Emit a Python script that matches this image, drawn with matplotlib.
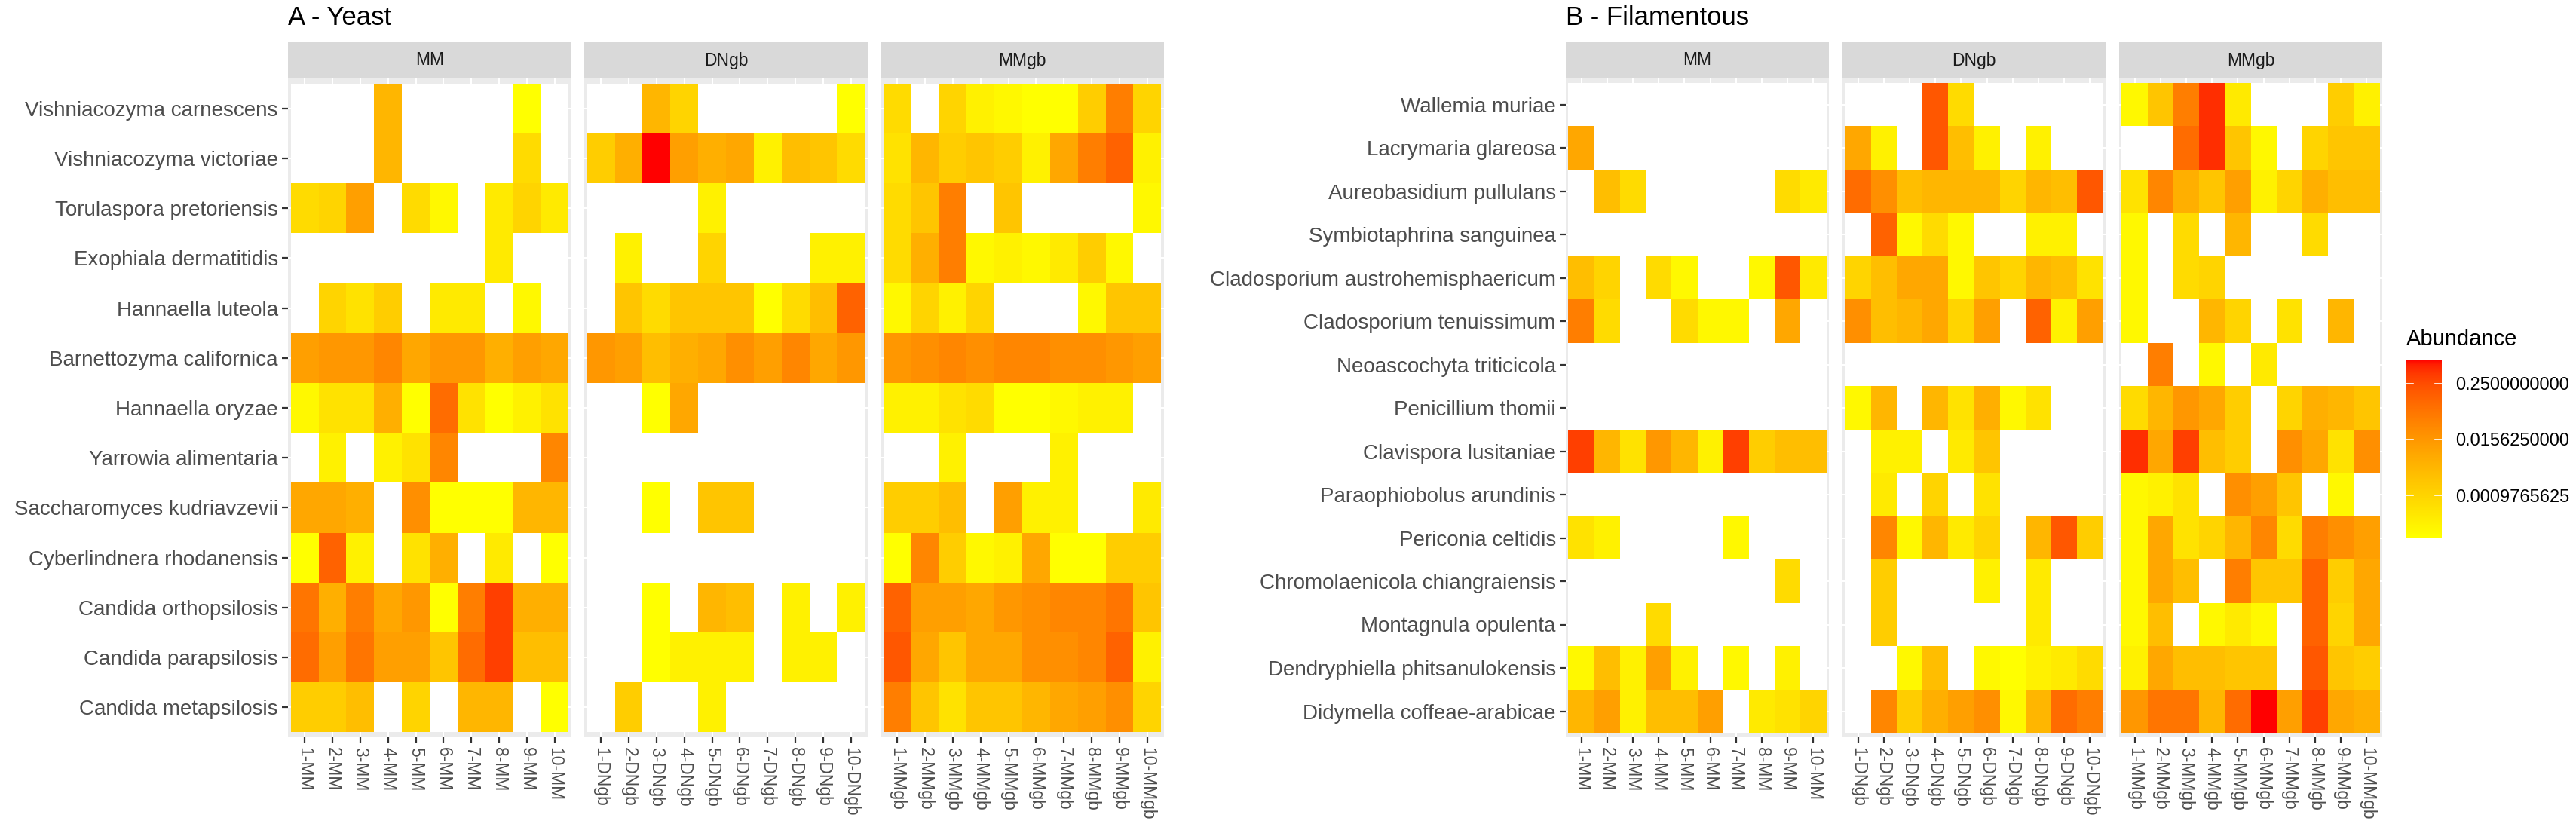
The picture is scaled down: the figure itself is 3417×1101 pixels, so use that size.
import numpy as np
import matplotlib
matplotlib.use("Agg")
import matplotlib.pyplot as plt
import matplotlib.colors as mcolors
from matplotlib.cm import ScalarMappable

plt.rcParams['font.family'] = ['Liberation Sans', 'DejaVu Sans']

NA = None

facets = ["MM", "DNgb", "MMgb"]
samples = list(range(1, 11))

yeast_species = ["Vishniacozyma carnescens", "Vishniacozyma victoriae", "Torulaspora pretoriensis",
                 "Exophiala dermatitidis", "Hannaella luteola", "Barnettozyma californica",
                 "Hannaella oryzae", "Yarrowia alimentaria", "Saccharomyces kudriavzevii",
                 "Cyberlindnera rhodanensis", "Candida orthopsilosis", "Candida parapsilosis",
                 "Candida metapsilosis"]

fila_species = ["Wallemia muriae", "Lacrymaria glareosa", "Aureobasidium pullulans",
                "Symbiotaphrina sanguinea", "Cladosporium austrohemisphaericum",
                "Cladosporium tenuissimum", "Neoascochyta triticicola", "Penicillium thomii",
                "Clavispora lusitaniae", "Paraophiobolus arundinis", "Periconia celtidis",
                "Chromolaenicola chiangraiensis", "Montagnula opulenta",
                "Dendryphiella phitsanulokensis", "Didymella coffeae-arabicae"]

# abundance as log2 values, NA = not detected
yeast_MM = [
    [NA, NA, NA, -8, NA, NA, NA, NA, -13, NA],
    [NA, NA, NA, -8, NA, NA, NA, NA, -10.5, NA],
    [-10.5, -10, -6.5, NA, -10.5, -12.5, NA, -11.5, -10, -11.5],
    [NA, NA, NA, NA, NA, NA, NA, -11.5, NA, NA],
    [NA, -10, -11, -9.5, NA, -11.5, -11.5, NA, -12.5, NA],
    [-6.5, -6, -6, -5, -7, -6, -6, -7.5, -6.5, -7],
    [-12.5, -11, -11, -7.5, -13, -3.5, -11, -13, -12, -11],
    [NA, -12, NA, -12, -11, -5, NA, NA, NA, -5],
    [-7, -7, -7.5, NA, -5.5, -13, -13, -13, -8, -8],
    [-13, -3, -12, NA, -11, -7.5, NA, -11.5, NA, -13],
    [-4, -7.5, -4.5, -7, -6, -13, -4.5, -1.5, -7.5, -7.5],
    [-3.5, -6.5, -4, -6.5, -6.5, -9, -3.5, -1.5, -8.5, -8.5],
    [-9.5, -9.5, -8.5, NA, -10, NA, -8, -8, NA, -13],
]
yeast_DNgb = [
    [NA, NA, -8, -10, NA, NA, NA, NA, NA, -13],
    [-9.5, -7.5, -0.3, -6.5, -7.5, -7, -12, -8.5, -9, -10.5],
    [NA, NA, NA, NA, -12, NA, NA, NA, NA, NA],
    [NA, -12, NA, NA, -10, NA, NA, NA, -12, -12],
    [NA, -9, -10.5, -9, -9, -9, -13, -10.5, -8.5, -3],
    [-6, -6.5, -8.5, -7.5, -7, -5.5, -6.5, -5, -7, -6],
    [NA, NA, -13, -7, NA, NA, NA, NA, NA, NA],
    [NA, NA, NA, NA, NA, NA, NA, NA, NA, NA],
    [NA, NA, -13, NA, -9, -9, NA, NA, NA, NA],
    [NA, NA, NA, NA, NA, NA, NA, NA, NA, NA],
    [NA, NA, -13, NA, -8, -8.5, NA, -12, NA, -12],
    [NA, NA, -13, -12, -12, -12, NA, -12, -12, NA],
    [NA, -9.5, NA, NA, -12, NA, NA, NA, NA, NA],
]
yeast_MMgb = [
    [-10.5, NA, -10, -12, -12.5, -13, -13, -9.5, -4.5, -10],
    [-11, -8, -9.5, -9, -9.5, -12, -7, -4.5, -3, -12],
    [-10.5, -9, -4.5, NA, -9, NA, NA, NA, NA, -12.5],
    [-10.5, -7.5, -4.5, -12.5, -12, -12.5, -11.5, -9.5, -12.5, NA],
    [-12.5, -10, -12, -10, NA, NA, NA, -12.5, -9, -9],
    [-6, -5.5, -5, -5.5, -5, -5, -5.5, -5.5, -6, -6.5],
    [-12, -12, -11, -10.5, -13, -13, -12.5, -12, -12, NA],
    [NA, NA, -12, NA, NA, NA, -12, NA, NA, NA],
    [-9.5, -9.5, -8.5, NA, -6.5, -12, -12, NA, NA, -11.5],
    [-13, -5, -9.5, -12.5, -12, -7, -13, -13, -9.5, -9.5],
    [-3, -6.5, -6.5, -7, -6, -5.5, -5, -5, -4, -9],
    [-2.5, -7, -9, -7, -7, -5.5, -5.5, -5, -3, -12],
    [-4.5, -9, -11, -9, -9, -8, -7, -6.5, -5.5, -10],
]

fila_MM = [
    [NA, NA, NA, NA, NA, NA, NA, NA, NA, NA],
    [-7, NA, NA, NA, NA, NA, NA, NA, NA, NA],
    [NA, -8.5, -10.5, NA, NA, NA, NA, NA, -10.5, -11.5],
    [NA, NA, NA, NA, NA, NA, NA, NA, NA, NA],
    [-8.5, -10, NA, -10.5, -12.5, NA, NA, -12.5, -2.5, -11.5],
    [-4.5, -10.5, NA, NA, -10.5, -12.5, -12.5, NA, -7, NA],
    [NA, NA, NA, NA, NA, NA, NA, NA, NA, NA],
    [NA, NA, NA, NA, NA, NA, NA, NA, NA, NA],
    [-1.5, -8, -11, -6, -8, -12, -1.5, -9.5, -8.5, -8.5],
    [NA, NA, NA, NA, NA, NA, NA, NA, NA, NA],
    [-11, -12, NA, NA, NA, NA, -12.5, NA, NA, NA],
    [NA, NA, NA, NA, NA, NA, NA, NA, -10.5, NA],
    [NA, NA, NA, -10.5, NA, NA, NA, NA, NA, NA],
    [-12.5, -8.5, -12, -6.5, -12, NA, -12.5, NA, -12, NA],
    [-8, -6.5, -12, -8.5, -8.5, -6.5, NA, -11.5, -11, -10],
]
fila_DNgb = [
    [NA, NA, NA, -2.5, -10.5, NA, NA, NA, NA, NA],
    [-7, -12, NA, -2.5, -8.5, -12, NA, -12, NA, NA],
    [-3.5, -5.5, -8.5, -8, -8, -8, -10, -8, -8.5, -2.5],
    [NA, -3, -12.5, -10.5, -12.5, NA, NA, -12, -12, NA],
    [-10, -8.5, -7, -7, -12.5, -9, -10, -8, -8.5, -11],
    [-5.5, -8.5, -8, -7, -10, -6.5, NA, -3, -12, -6.5],
    [NA, NA, NA, NA, NA, NA, NA, NA, NA, NA],
    [-12.5, -8, NA, -8, -11, -7.5, -12.5, -11, NA, NA],
    [NA, -12, -12, NA, -11.5, -9, NA, NA, NA, NA],
    [NA, -11.5, NA, -10, NA, -11, NA, NA, NA, NA],
    [NA, -5, -12.5, -8, -11.5, -10, NA, -8, -2.5, -9.5],
    [NA, -9.5, NA, NA, NA, -12, NA, -11.5, NA, NA],
    [NA, -9.5, NA, NA, NA, NA, NA, -11.5, NA, NA],
    [NA, NA, -12.5, -8.5, NA, -12.5, -13, -12, -11.5, -10.5],
    [NA, -5, -9.5, -7.5, -6.5, -5.5, -12.5, -8, -3.5, -4.5],
]
fila_MMgb = [
    [-12.5, -9, -4.5, -1, -11.5, NA, NA, NA, -9.5, -12],
    [NA, NA, -3.5, -1, -9, -12.5, NA, -10, -9, -9],
    [-11, -5, -7.5, -9, -6.5, -12, -10, -7.5, -8.5, -8.5],
    [-12.5, NA, -10.5, NA, -8, NA, NA, -10.5, NA, NA],
    [-12.5, NA, -10.5, -10, NA, NA, NA, NA, NA, NA],
    [-12.5, NA, NA, -8, -10, NA, -11, NA, -8, NA],
    [NA, -4.5, NA, -12.5, NA, -11.5, NA, NA, NA, NA],
    [-10.5, -8, -6, -7, -9.5, NA, -10, -7.5, -8, -9],
    [-1, -7, -1.5, -8.5, -9.5, NA, -5.5, -7, -11, -5.5],
    [-12.5, -12, -11, NA, -5.5, -6.5, -9, NA, -12.5, NA],
    [-12.5, -7, -11, -10, -8, -5, -10.5, -4.5, -5.5, -6.5],
    [-12.5, -7, -8.5, NA, -4.5, -9, -9, -3, -9.5, -7],
    [-12.5, -8.5, NA, -12.5, -11.5, -12.5, NA, -3, -10, -7],
    [-12, -7, -8.5, -8.5, -9, -9, NA, -2.5, -9, -9.5],
    [-6, -4, -4, -8, -3.5, -0.3, -6.5, -1.5, -7, -7.5],
]

legend_breaks = [2 ** -10, 2 ** -6, 2 ** -2]

W, H = 3417, 1101


def fx(px):
    return px / W


def fy(px):
    return 1 - px / H


# yellow -> red gradient interpolated in CIELAB, like ggplot's scale_fill_gradient
M = np.array([[0.4124, 0.3576, 0.1805], [0.2126, 0.7152, 0.0722], [0.0193, 0.1192, 0.9505]])
WHITE = np.array([0.95047, 1.0, 1.08883])


def to_lab(c):
    rgb = np.array(mcolors.to_rgb(c))
    lin = np.where(rgb <= 0.04045, rgb / 12.92, ((rgb + 0.055) / 1.055) ** 2.4)
    xyz = M @ lin / WHITE
    f = np.where(xyz > (6 / 29) ** 3, np.cbrt(xyz), xyz / (3 * (6 / 29) ** 2) + 4 / 29)
    return np.array([116 * f[1] - 16, 500 * (f[0] - f[1]), 200 * (f[1] - f[2])])


def from_lab(lab):
    fyy = (lab[0] + 16) / 116
    f = np.array([fyy + lab[1] / 500, fyy, fyy - lab[2] / 200])
    xyz = np.where(f > 6 / 29, f ** 3, 3 * (6 / 29) ** 2 * (f - 4 / 29)) * WHITE
    lin = np.clip(np.linalg.inv(M) @ xyz, 0, 1)
    rgb = np.where(lin <= 0.0031308, 12.92 * lin, 1.055 * lin ** (1 / 2.4) - 0.055)
    return np.clip(rgb, 0, 1)


lab_lo, lab_hi = to_lab("yellow"), to_lab("red")
ramp = [from_lab(lab_lo + t * (lab_hi - lab_lo)) for t in np.linspace(0, 1, 256)]
cmap = mcolors.LinearSegmentedColormap.from_list("yr", ramp)
cmap.set_bad("white")

all_vals = np.concatenate([np.array(d, dtype=float).ravel() for d in
                           [yeast_MM, yeast_DNgb, yeast_MMgb, fila_MM, fila_DNgb, fila_MMgb]])
norm = mcolors.LogNorm(vmin=2 ** np.nanmin(all_vals), vmax=2 ** np.nanmax(all_vals))

fig = plt.figure(figsize=(W / 100, H / 100), dpi=100)

PANEL_TOP, PANEL_BOT, STRIP_TOP = 104, 978, 56


def draw_panel(x0, width, gap, species, data, title):
    n = len(species)
    for k, (facet, rows) in enumerate(zip(facets, data)):
        left = x0 + k * (width + gap)
        ax = fig.add_axes([fx(left), fy(PANEL_BOT), width / W, (PANEL_BOT - PANEL_TOP) / H])
        ax.set_facecolor("#EBEBEB")
        arr = np.array(rows, dtype=float)[::-1]
        vals = np.ma.masked_invalid(2.0 ** arr)
        ax.pcolormesh(np.arange(11) + 0.5, np.arange(n + 1) + 0.5, vals, cmap=cmap, norm=norm,
                      edgecolors="none", antialiased=False, zorder=2)
        ax.set_xlim(0.4, 10.6)
        ax.set_ylim(0.4, n + 0.6)
        ax.grid(True, color="white", lw=1.5)
        ax.set_axisbelow(True)
        for s in ax.spines.values():
            s.set_visible(False)
        ax.set_xticks(samples)
        ax.set_xticklabels([f"{i}-{facet}" for i in samples], rotation=270, ha="center", va="top",
                           fontsize=16.5, color="#4D4D4D")
        ax.tick_params(axis="both", color="#333333", width=1.6, length=5.5, pad=4)
        ax.set_yticks(np.arange(1, n + 1))
        if k == 0:
            ax.set_yticklabels(species[::-1], fontsize=20, color="#4D4D4D")
        else:
            ax.set_yticklabels([])
            ax.tick_params(axis="y", length=0)

        sax = fig.add_axes([fx(left), fy(PANEL_TOP), width / W, (PANEL_TOP - STRIP_TOP) / H])
        sax.set_facecolor("#D9D9D9")
        sax.set_xticks([])
        sax.set_yticks([])
        for s in sax.spines.values():
            s.set_visible(False)
        sax.text(0.5, 0.5, facet, ha="center", va="center", fontsize=16.5, color="#1A1A1A",
                 transform=sax.transAxes)
    fig.text(fx(x0), fy(33), title, fontsize=25, ha="left", va="baseline", color="black")


draw_panel(382, 376, 17, yeast_species, [yeast_MM, yeast_DNgb, yeast_MMgb], "A - Yeast")
draw_panel(2077, 349, 18, fila_species, [fila_MM, fila_DNgb, fila_MMgb], "B - Filamentous")

# colour bar legend
cax = fig.add_axes([fx(3192), fy(713), 47 / W, (713 - 477) / H])
cb = fig.colorbar(ScalarMappable(norm=norm, cmap=cmap), cax=cax)
cb.outline.set_visible(False)
cb.set_ticks(legend_breaks)
cb.set_ticklabels([f"{b:.10f}" for b in legend_breaks])
cax.yaxis.set_minor_locator(matplotlib.ticker.NullLocator())
cax.tick_params(length=0, pad=13, labelsize=17, labelcolor="black")
for b in legend_breaks:
    cax.plot([0, 0.2], [b, b], color="white", lw=1.2, transform=cax.get_yaxis_transform())
    cax.plot([0.8, 1], [b, b], color="white", lw=1.2, transform=cax.get_yaxis_transform())
fig.text(fx(3192), fy(458), "Abundance", fontsize=21, ha="left", va="baseline", color="black")

fig.savefig("out.png", dpi=100)
